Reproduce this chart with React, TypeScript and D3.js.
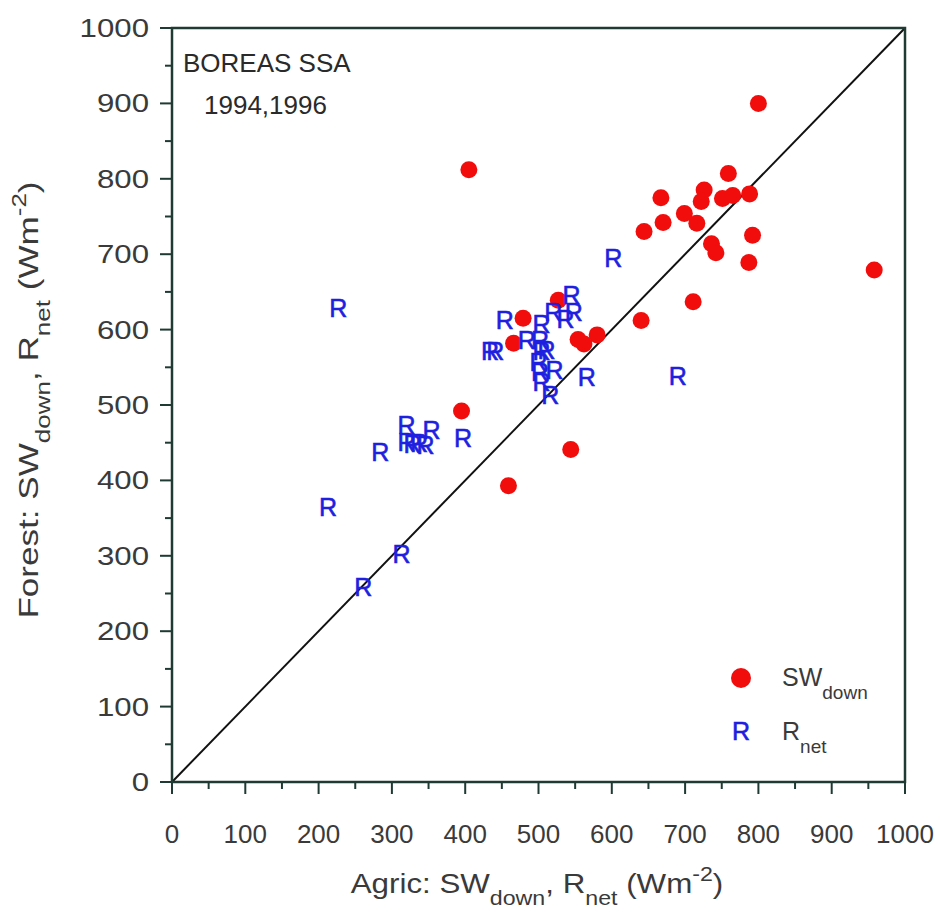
import React from "react";
import * as d3 from "d3";

const swAgric = [405, 759, 667, 726, 722, 751, 765, 788, 670, 699, 716, 644, 792, 736, 742, 787, 958, 711, 640, 580, 479, 527, 466, 554, 562, 395, 544, 459, 800];
const swForest = [812, 807, 775, 785, 770, 774, 778, 780, 742, 754, 741, 730, 725, 714, 702, 689, 679, 637, 612, 593, 615, 639, 582, 587, 581, 492, 441, 393, 900];

const rnAgric = [227, 602, 690, 454, 504, 520, 545, 548, 537, 434, 441, 484, 502, 504, 511, 500, 502, 522, 504, 516, 566, 320, 354, 320, 328, 337, 346, 397, 284, 213, 313, 261];
const rnForest = [629, 695, 538, 613, 608, 624, 646, 624, 614, 571, 571, 586, 586, 571, 573, 557, 544, 546, 531, 513, 537, 473, 467, 451, 448, 450, 447, 456, 438, 365, 303, 259];

const ticks = [0, 100, 200, 300, 400, 500, 600, 700, 800, 900, 1000];
const minorTicks = [50, 150, 250, 350, 450, 550, 650, 750, 850, 950];

export default function App() {
  const W = 940, H = 919;
  const x = d3.scaleLinear().domain([0, 1000]).range([172, 905]);
  const y = d3.scaleLinear().domain([0, 1000]).range([782, 28]);
  const axisColor = "#1f3a33";
  const textColor = "#3a3a3a";
  const font = "'Liberation Sans', Arial, sans-serif";
  const line = d3.line<number>().x((d) => x(d)).y((d) => y(d));
  return (
    <svg width={W} height={H} style={{ position: "absolute", left: 0, top: 0, background: "#fff" }} fontFamily={font}>
      <rect x={0} y={0} width={W} height={H} fill="#fff" />
      <path d={line([0, 1000]) || ""} stroke="#111" strokeWidth={2} fill="none" />
      <rect x={x(0)} y={y(1000)} width={x(1000) - x(0)} height={y(0) - y(1000)} fill="none" stroke={axisColor} strokeWidth={2.5} />
      {ticks.map((t) => (
        <g key={"xt" + t}>
          <line x1={x(t)} x2={x(t)} y1={y(0)} y2={y(0) + 12} stroke={axisColor} strokeWidth={2} />
          <text x={x(t)} y={y(0) + 61} textAnchor="middle" fontSize={26} fill={textColor}>{t}</text>
        </g>
      ))}
      {minorTicks.map((t) => (
        <line key={"xm" + t} x1={x(t)} x2={x(t)} y1={y(0)} y2={y(0) + 7} stroke={axisColor} strokeWidth={2} />
      ))}
      {ticks.map((t) => (
        <g key={"yt" + t}>
          <line x1={x(0) - 12} x2={x(0)} y1={y(t)} y2={y(t)} stroke={axisColor} strokeWidth={2} />
          <text transform={`translate(${x(0) - 23},${y(t) + 9}) scale(1.2,1)`} textAnchor="end" fontSize={26} fill={textColor}>{t}</text>
        </g>
      ))}
      {minorTicks.map((t) => (
        <line key={"ym" + t} x1={x(0) - 7} x2={x(0)} y1={y(t)} y2={y(t)} stroke={axisColor} strokeWidth={2} />
      ))}
      <text x={183} y={72} fontSize={26} fill="#2a2a2a">BOREAS SSA</text>
      <text x={204} y={114} fontSize={26} fill="#2a2a2a">1994,1996</text>
      {swAgric.map((v, i) => (
        <circle key={"sw" + i} cx={x(v)} cy={y(swForest[i])} r={8.5} fill="#f20d0d" />
      ))}
      {rnAgric.map((v, i) => (
        <text key={"rn" + i} x={x(v)} y={y(rnForest[i]) + 9} textAnchor="middle" fontSize={25} fill="#1f1fe0" stroke="#1f1fe0" strokeWidth={0.6}>R</text>
      ))}
      <circle cx={741} cy={678} r={10} fill="#f20d0d" />
      <text x={782} y={686} fontSize={25} fill={textColor}>SW<tspan fontSize={19} dy={13}>down</tspan></text>
      <text x={741} y={740} textAnchor="middle" fontSize={25} fill="#1f1fe0" stroke="#1f1fe0" strokeWidth={0.6}>R</text>
      <text x={782} y={740} fontSize={25} fill={textColor}>R<tspan fontSize={19} dy={13}>net</tspan></text>
      <text transform="translate(537,893) scale(1.16,1)" textAnchor="middle" fontSize={27} fill={textColor}>
        Agric: SW<tspan fontSize={20} dy={12}>down</tspan><tspan dy={-12}>, R</tspan><tspan fontSize={20} dy={12}>net</tspan><tspan dy={-12}> (Wm</tspan><tspan fontSize={20} dy={-12}>-2</tspan><tspan dy={12}>)</tspan>
      </text>
      <text transform="translate(38,400) rotate(-90) scale(1.3,1)" textAnchor="middle" fontSize={27} fill={textColor}>
        Forest: SW<tspan fontSize={20} dy={12}>down</tspan><tspan dy={-12}>, R</tspan><tspan fontSize={20} dy={12}>net</tspan><tspan dy={-12}> (Wm</tspan><tspan fontSize={20} dy={-12}>-2</tspan><tspan dy={12}>)</tspan>
      </text>
    </svg>
  );
}
